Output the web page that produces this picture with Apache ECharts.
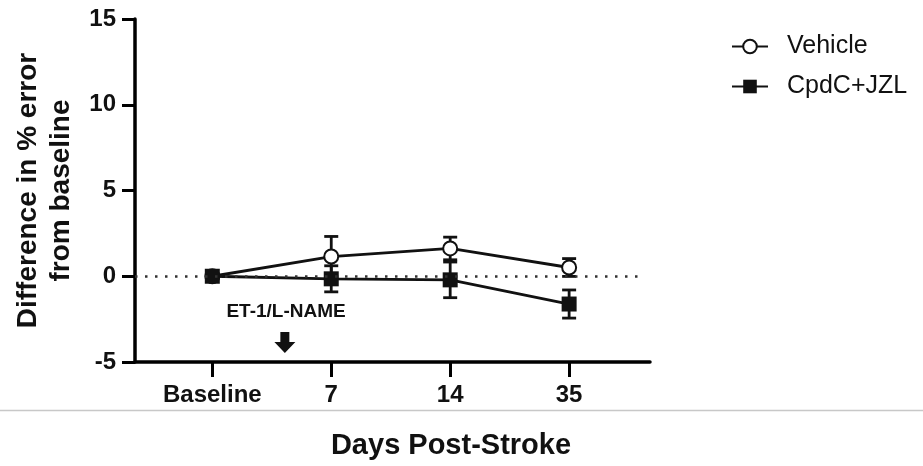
<!DOCTYPE html>
<html>
<head>
<meta charset="utf-8">
<script src="https://cdn.jsdelivr.net/npm/echarts@6/dist/echarts.min.js"></script>
<style>html,body{margin:0;padding:0;background:#fff;}#c{width:923px;height:466px;}</style>
</head>
<body>
<div id="c"></div>
<script>
// ---- data ----
const categories = ['Baseline', '7', '14', '35'];
const categoryPos = [0, 1, 2, 3];
const vehicleMean = [0, 1.15, 1.62, 0.51];
const vehicleSem  = [0.15, 1.17, 0.66, 0.52];
const cpdcMean    = [0, -0.15, -0.21, -1.62];
const cpdcSem     = [0.15, 0.76, 1.04, 0.82];
const yTicks = [-5, 0, 5, 10, 15];
const annotationText = ['ET-1/L-NAME', 0.62, -2.07];
const annotationArrow = [0.61, -3.83];
const seriesNames = ['Vehicle', 'CpdC+JZL'];

const font = 'Liberation Sans, Arial, sans-serif';
const chart = echarts.init(document.getElementById('c'), null, {renderer: 'canvas'});

function pts(mean) { return categoryPos.map((x, i) => [x, mean[i]]); }
function errs(mean, sem) { return categoryPos.map((x, i) => [x, mean[i], sem[i]]); }

function errRender(params, api) {
  const x = api.value(0), m = api.value(1), s = api.value(2);
  const top = api.coord([x, m + s]);
  const bot = api.coord([x, m - s]);
  const hw = 7;
  const st = {stroke: '#111', lineWidth: 2.8};
  return {type: 'group', children: [
    {type: 'line', shape: {x1: top[0], y1: top[1], x2: bot[0], y2: bot[1]}, style: st},
    {type: 'line', shape: {x1: top[0] - hw, y1: top[1], x2: top[0] + hw, y2: top[1]}, style: st},
    {type: 'line', shape: {x1: bot[0] - hw, y1: bot[1], x2: bot[0] + hw, y2: bot[1]}, style: st}
  ]};
}

const option = {
  animation: false,
  backgroundColor: '#fff',
  grid: {left: 135, right: 273, top: 19, bottom: 104, containLabel: false},
  legend: {
    data: seriesNames,
    orient: 'vertical',
    left: 726, top: 29,
    itemWidth: 36, itemHeight: 17, itemGap: 15,
    textStyle: {fontSize: 25, color: '#111', fontFamily: font, padding: [0, 0, 0, 14]}
  },
  xAxis: {
    type: 'value', min: -0.65, max: 3.68,
    axisLine: {show: true, onZero: false, lineStyle: {color: '#000', width: 3.5}},
    axisTick: {show: true, length: 15, lineStyle: {color: '#000', width: 3}, customValues: categoryPos},
    axisLabel: {customValues: categoryPos, formatter: v => categories[Math.round(v)] || '',
      fontSize: 24, fontWeight: 'bold', color: '#111', fontFamily: font, margin: 21},
    splitLine: {show: false}
  },
  yAxis: {
    type: 'value', min: -5, max: 15, interval: 5,
    name: 'Difference in % error\nfrom baseline',
    nameLocation: 'middle', nameGap: 57, nameRotate: 90,
    nameTextStyle: {fontSize: 28, fontWeight: 'bold', color: '#111', fontFamily: font, lineHeight: 33},
    axisLine: {show: true, onZero: false, lineStyle: {color: '#000', width: 3.5}},
    axisTick: {show: true, length: 13, lineStyle: {color: '#000', width: 3}},
    axisLabel: {fontSize: 24, fontWeight: 'bold', color: '#111', fontFamily: font, margin: 19,
      formatter: v => yTicks.includes(v) ? String(v) : ''},
    splitLine: {show: false}
  },
  graphic: [
    {type: 'line', shape: {x1: 0, y1: 410.5, x2: 923, y2: 410.5}, style: {stroke: '#c8c8c8', lineWidth: 1.5}},
    {type: 'text', x: 451, y: 446, style: {text: 'Days Post-Stroke', font: 'bold 29px ' + font, fill: '#111', textAlign: 'center', textVerticalAlign: 'middle'}}
  ],
  series: [
    {
      type: 'custom', name: 'vehErr', renderItem: errRender, data: errs(vehicleMean, vehicleSem), z: 2, silent: true
    },
    {
      type: 'custom', name: 'cpdErr', renderItem: errRender, data: errs(cpdcMean, cpdcSem), z: 2, silent: true
    },
    {
      name: 'Vehicle', type: 'line', data: pts(vehicleMean), z: 3,
      symbol: 'emptyCircle', symbolSize: 14, showAllSymbol: true,
      lineStyle: {color: '#111', width: 2.8},
      itemStyle: {color: '#111', borderWidth: 2.8, borderColor: '#111'},
      markLine: {
        silent: true, symbol: 'none', label: {show: false},
        lineStyle: {color: '#333', type: [2.5, 7.5], width: 2.6},
        data: [[{coord: [-0.65, 0]}, {coord: [3.6, 0]}]]
      }
    },
    {
      name: 'CpdC+JZL', type: 'line', data: pts(cpdcMean), z: 4,
      symbol: 'rect', symbolSize: 15, showAllSymbol: true,
      lineStyle: {color: '#111', width: 2.8},
      itemStyle: {color: '#111'}
    },
    {
      type: 'custom', name: 'annot', silent: true, z: 5,
      data: [[annotationText[1], annotationText[2], annotationArrow[0], annotationArrow[1]]],
      renderItem: function (params, api) {
        const t = api.coord([api.value(0), api.value(1)]);
        const a = api.coord([api.value(2), api.value(3)]);
        const cx = a[0], cy = a[1];
        return {type: 'group', children: [
          {type: 'text', x: t[0], y: t[1], style: {text: annotationText[0], font: 'bold 19px ' + font, fill: '#111', textAlign: 'center', textVerticalAlign: 'middle'}},
          {type: 'polygon', shape: {points: [[cx - 4.5, cy - 10], [cx + 4.5, cy - 10], [cx + 4.5, cy], [cx + 10.5, cy], [cx, cy + 11], [cx - 10.5, cy], [cx - 4.5, cy]]}, style: {fill: '#111'}}
        ]};
      }
    }
  ]
};
chart.setOption(option);
</script>
</body>
</html>
